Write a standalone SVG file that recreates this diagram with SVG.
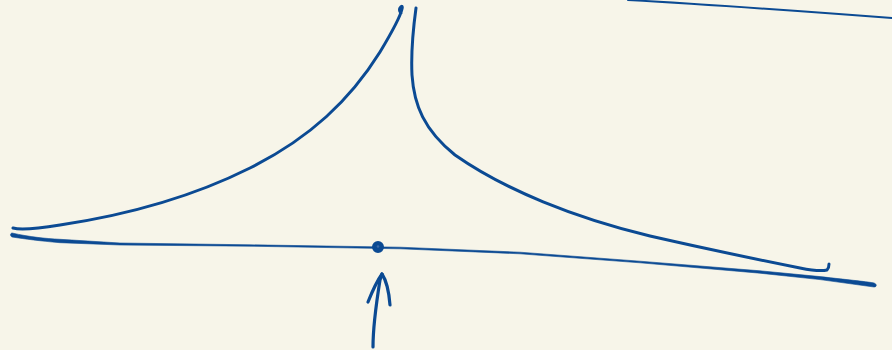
<svg xmlns="http://www.w3.org/2000/svg" width="892" height="350" viewBox="0 0 892 350">
<style>
.s{fill:none;stroke:#0b4a93;stroke-linecap:round;stroke-linejoin:round}
.f{fill:#0b4a93;stroke:#0b4a93;stroke-width:0.6;stroke-linejoin:round}
</style>
<rect width="892" height="350" fill="#f7f5e9"/>
<g id="left-curve">
<path class="s" stroke-width="3" d="M13,228 C20,230 35,229 60,225 C120,216 190,198 250,168 C310,138 350,100 380,52 C392,32 400,18 402,9 C403,5 401,6 400,8 C399,10 400,12 401,13"/>
</g>
<g id="right-curve">
<path class="s" stroke-width="3" d="M416,8 C413,30 411,55 412,75 C414,105 424,130 455,155 C505,190 575,218 650,236 C720,252 770,262 800,268 C815,271 823,271 827,270 C829,268 829,266 829,264"/>
</g>
<g id="axis">
<path class="f" d="M12,233 C30,237 45,238.5 60,239.3 L120,243 L250,244.8 L400,247.2 L520,252.2 L640,261.2 L760,270.8 L820,276.6 C850,280 870,282 874,283 C877,284 877,287 874,287 L820,279.6 L760,273.2 L640,262.8 L520,253.8 L400,248.8 L250,246.2 L120,245 L60,242.7 C40,241 25,239 12,237 C10,236 10,233.5 12,233 Z"/>
<circle cx="378" cy="247" r="5" fill="#0b4a93" stroke="#0b4a93" stroke-width="2"/>
<circle cx="378" cy="246.5" r="1.3" fill="#3a6aa8"/>
</g>
<g id="arrow">
<path class="s" stroke-width="3.2" d="M373,347 C373,330 376,305 380,280 L382,274"/>
<path class="s" stroke-width="3.2" d="M368,302 C372,292 377,281 382,274 C386,280 389,292 390,305"/>
</g>
<g id="top-line">
<path class="s" stroke-width="2" d="M628,0 C700,4 800,11 892,18"/>
</g>
</svg>
